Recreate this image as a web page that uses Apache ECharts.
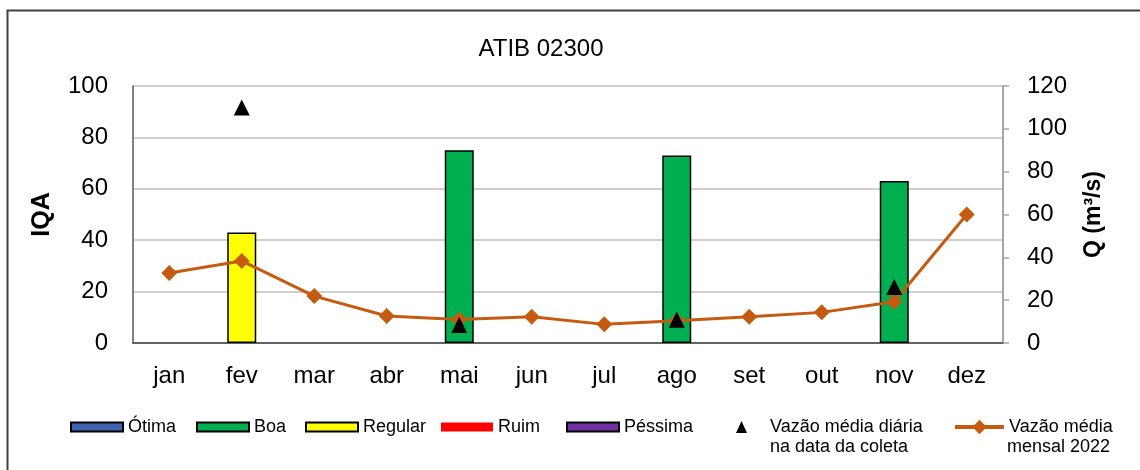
<!DOCTYPE html>
<html>
<head>
<meta charset="utf-8">
<title>ATIB 02300</title>
<script src="https://cdn.jsdelivr.net/npm/echarts@6/dist/echarts.min.js"></script>
<style>
  html, body { margin: 0; padding: 0; background: #ffffff; }
  #chart { width: 1140px; height: 470px; }
</style>
</head>
<body>
<div id="chart"></div>
<script>
// Months of the sampling year
const months = ['jan', 'fev', 'mar', 'abr', 'mai', 'jun', 'jul', 'ago', 'set', 'out', 'nov', 'dez'];

// IQA measured at each campaign (null = no sample that month)
const iqaValues = [null, 43, null, null, 75, null, null, 73, null, null, 63, null];
// Quality class of each sample
const iqaClass = [null, 'Regular', null, null, 'Boa', null, null, 'Boa', null, null, 'Boa', null];

// Daily mean flow on the sampling date (m³/s)
const dailyFlow = [null, 110, null, null, 8.4, null, null, 10.8, null, null, 26.1, null];
// Monthly mean flow 2022 (m³/s)
const monthlyFlow = [32.7, 38.3, 21.9, 12.6, 11, 12.3, 8.7, 10.4, 12.3, 14.3, 19.3, 60];

// Axis ticks
const iqaTicks = { min: 0, max: 100, step: 20 };
const flowTicks = { min: 0, max: 120, step: 20 };

// Quality classes and their colours
const classNames = ['Ótima', 'Boa', 'Regular', 'Ruim', 'Péssima'];
const classColors = ['#3f65b1', '#00b050', '#ffff00', '#ff0000', '#7030a0'];

const FONT = '"Liberation Sans", Arial, sans-serif';

const chart = echarts.init(document.getElementById('chart'));

// One bar series per class; bars overlap at the category centre
const barSeries = classNames.map((name, i) => ({
  name: name,
  type: 'bar',
  yAxisIndex: 0,
  barWidth: '40%',
  barGap: '-100%',
  itemStyle: {
    color: classColors[i],
    borderColor: name === 'Ruim' ? 'transparent' : '#000000',
    borderWidth: name === 'Ruim' ? 0 : 1.5
  },
  data: iqaValues.map((v, k) => (iqaClass[k] === name ? v : null)),
  z: 2
}));

const lineName = 'Vazão média mensal 2022';
const pointName = 'Vazão média diária na data da coleta';

// Legend positions (icon left edge)
const legendSlots = [
  { name: 'Ótima', left: 70 },
  { name: 'Boa', left: 196 },
  { name: 'Regular', left: 305 },
  { name: 'Ruim', left: 441 },
  { name: 'Péssima', left: 566 }
];

const legendText = { fontFamily: FONT, fontSize: 18, color: '#000000', lineHeight: 20 };

const legends = legendSlots.map(s => ({
  data: [s.name],
  left: s.left,
  top: 417,
  padding: 0,
  icon: 'rect',
  itemWidth: 52,
  itemHeight: 9,
  selectedMode: false,
  textStyle: legendText
}));

legends.push({
  data: [pointName],
  left: 736,
  top: 417,
  padding: 0,
  itemWidth: 11,
  itemHeight: 12,
  selectedMode: false,
  formatter: () => 'Vazão média diária',
  textStyle: Object.assign({}, legendText, { padding: [0, 0, 0, 18] })
});

legends.push({
  data: [lineName],
  left: 953,
  top: 417,
  padding: 0,
  itemWidth: 49,
  itemHeight: 18,
  selectedMode: false,
  formatter: () => 'Vazão média',
  lineStyle: { width: 4, color: '#c55a11' },
  textStyle: legendText
});

const option = {
  animation: false,
  backgroundColor: '#ffffff',
  title: {
    text: 'ATIB 02300',
    left: 536,
    top: 32,
    textAlign: 'center',
    textStyle: { fontFamily: FONT, fontSize: 24, fontWeight: 'normal', color: '#000000' }
  },
  legend: legends,
  grid: { left: 133, right: 137, top: 86, bottom: 127, containLabel: false },
  xAxis: {
    type: 'category',
    data: months,
    boundaryGap: true,
    axisLine: { show: true, lineStyle: { color: '#404040', width: 1.5 } },
    axisTick: { show: false },
    axisLabel: { fontFamily: FONT, fontSize: 24, color: '#000000', margin: 21 },
    splitLine: { show: false }
  },
  yAxis: [
    {
      type: 'value',
      min: iqaTicks.min,
      max: iqaTicks.max,
      interval: iqaTicks.step,
      name: 'IQA',
      nameLocation: 'middle',
      nameRotate: 90,
      nameGap: 78,
      nameTextStyle: { fontFamily: FONT, fontSize: 25, fontWeight: 'bold', color: '#000000' },
      axisLine: { show: true, lineStyle: { color: '#595959', width: 1.5 } },
      axisTick: { show: false },
      axisLabel: { fontFamily: FONT, fontSize: 24, color: '#000000', margin: 25 },
      splitLine: { show: true, lineStyle: { color: '#bfbfbf', width: 1.5 } }
    },
    {
      type: 'value',
      position: 'right',
      min: flowTicks.min,
      max: flowTicks.max,
      interval: flowTicks.step,
      name: 'Q (m³/s)',
      nameLocation: 'middle',
      nameRotate: 90,
      nameGap: 79,
      nameTextStyle: { fontFamily: FONT, fontSize: 23, fontWeight: 'bold', color: '#000000' },
      axisLine: { show: true, lineStyle: { color: '#a6a6a6', width: 2 } },
      axisTick: { show: true, inside: false, length: 6, lineStyle: { color: '#a6a6a6', width: 1.5 } },
      axisLabel: { fontFamily: FONT, fontSize: 24, color: '#000000', margin: 24 },
      splitLine: { show: false }
    }
  ],
  series: barSeries.concat([
    {
      name: lineName,
      type: 'line',
      yAxisIndex: 1,
      data: monthlyFlow,
      symbol: 'diamond',
      symbolSize: 16,
      lineStyle: { color: '#c55a11', width: 3 },
      itemStyle: { color: '#c55a11' },
      z: 3
    },
    {
      name: pointName,
      type: 'scatter',
      yAxisIndex: 1,
      data: dailyFlow,
      symbol: 'triangle',
      symbolSize: 16,
      itemStyle: { color: '#000000', opacity: 1 },
      z: 4
    }
  ]),
  graphic: [
    {
      type: 'rect',
      shape: { x: 7.5, y: 10.5, width: 1200, height: 500 },
      style: { fill: 'none', stroke: '#404040', lineWidth: 2 },
      silent: true
    },
    {
      type: 'text',
      left: 770,
      top: 438,
      style: { text: 'na data da coleta', font: '18px ' + FONT, fill: '#000000' }
    },
    {
      type: 'text',
      left: 1007,
      top: 438,
      style: { text: 'mensal 2022', font: '18px ' + FONT, fill: '#000000' }
    }
  ]
};

chart.setOption(option);
</script>
</body>
</html>
